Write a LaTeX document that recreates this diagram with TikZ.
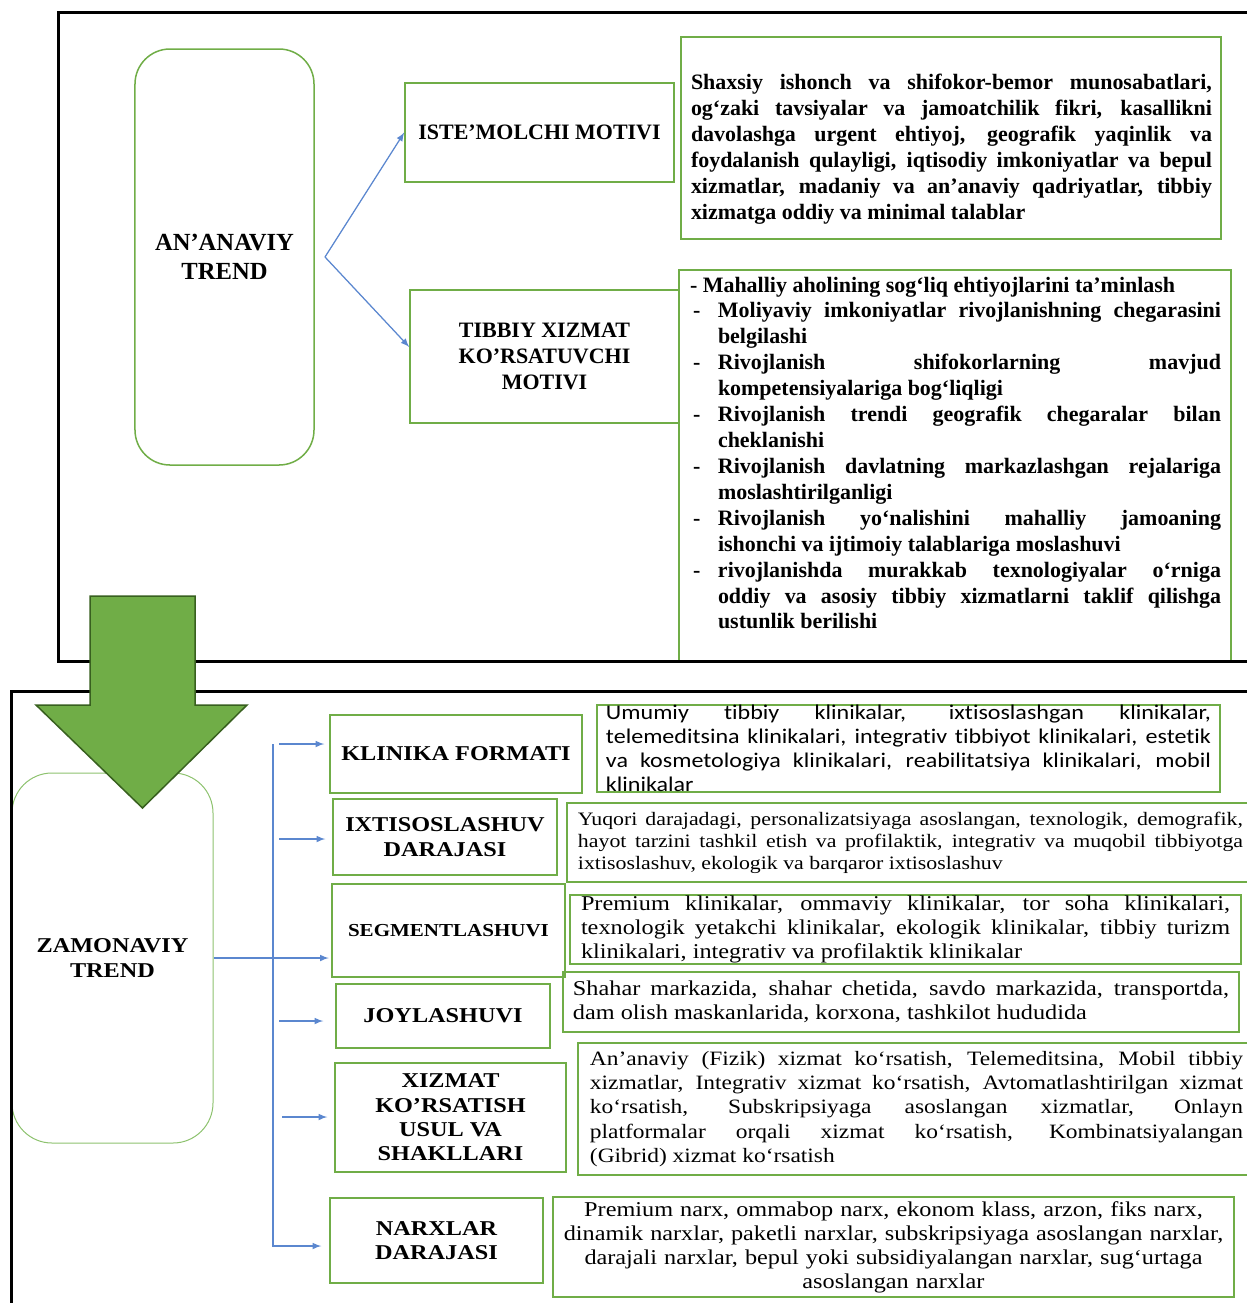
\documentclass[tikz,border=0pt]{standalone}
\usepackage{fontspec}
\setmainfont{Liberation Serif}
\newfontfamily\lowserif[FakeStretch=1.15]{Liberation Serif}
\newfontfamily\lowsans[FakeStretch=1.15, Ligatures=NoCommon]{Carlito}

\definecolor{boxgreen}{HTML}{70AD47}
\definecolor{softgreen}{HTML}{8DC26E}
\definecolor{darkgreen}{HTML}{38601F}
\definecolor{linkblue}{HTML}{5B87CF}

\setlength{\parindent}{0pt}
\hyphenpenalty=10000
\exhyphenpenalty=10000

\newcommand{\dashitem}{\par\hangindent=5.6mm\hangafter=1\makebox[5.6mm][l]{\hspace{0.6mm}-}\ignorespaces}

\tikzset{
  outerframe/.style={line width=0.6mm, black},
  gbox/.style={draw=boxgreen, line width=0.3mm, rectangle, inner sep=0pt},
  trendbox/.style={draw=boxgreen, line width=0.3mm, rounded corners=7mm, align=center},
  link/.style={-latex, draw=linkblue, fill=linkblue, line width=0.25mm},
  bigarrow/.style={fill=boxgreen, draw=darkgreen, line width=0.3mm},
  topname/.style={font=\fontsize{12.5}{14.8}\selectfont\bfseries, align=center},
  topbody/.style={font=\fontsize{12.5}{14.75}\selectfont\bfseries, align=justify, inner sep=0pt},
  lowhead/.style={font=\lowserif\fontsize{12}{13.8}\selectfont\bfseries, align=center},
  lowbody/.style={gbox, align=justify, inner ysep=0pt}
}

\begin{document}
\begin{tikzpicture}[x=0.2mm, y=-0.2mm]
\useasboundingbox (0,0) rectangle (1247,1303);

\node[trendbox, font=\fontsize{14}{16.5}\selectfont\bfseries, minimum width=35.8mm, minimum height=83.2mm] (anan) at (224.5,257) {AN’ANAVIY\\TREND};

\node[gbox, topname, minimum width=53.8mm, minimum height=19.8mm] (istem) at (539.5,132.5) {ISTE’MOLCHI MOTIVI};
\node[gbox, topname, minimum width=53.8mm, minimum height=26.6mm] (tibbiy) at (544.5,356.5) {TIBBIY XIZMAT\\KO’RSATUVCHI\\MOTIVI};

\coordinate (fork) at (325,257);
\draw[link] (fork) -- (istem.west);
\draw[link] (fork) -- ([yshift=1.9mm]tibbiy.west);

\node[gbox, minimum width=108mm, minimum height=40.4mm] (istembox) at (951,138) {};
\node[topbody, text width=104.2mm] (istemtxt) at (951.5,149) {Shaxsiy ishonch va shifokor-bemor munosabatlari, \linebreak og‘zaki tavsiyalar va jamoatchilik fikri, kasallikni \linebreak davolashga urgent ehtiyoj, geografik yaqinlik va \linebreak foydalanish qulayligi, iqtisodiy imkoniyatlar va bepul \linebreak xizmatlar, madaniy va an’anaviy qadriyatlar, tibbiy \linebreak xizmatga oddiy va minimal talablar};

\node[gbox, minimum width=110.4mm, minimum height=78.2mm] (motivbox) at (955,465.5) {};
\node[topbody, text width=106.2mm] (motivtxt) at (955.5,453) {- Mahalliy aholining sog‘liq ehtiyojlarini ta’minlash
\dashitem Moliyaviy imkoniyatlar rivojlanishning chegarasini \linebreak belgilashi
\dashitem Rivojlanish shifokorlarning mavjud \linebreak kompetensiyalariga bog‘liqligi
\dashitem Rivojlanish trendi geografik chegaralar bilan \linebreak cheklanishi
\dashitem Rivojlanish davlatning markazlashgan rejalariga \linebreak moslashtirilganligi
\dashitem Rivojlanish yo‘nalishini mahalliy jamoaning \linebreak ishonchi va ijtimoiy talablariga moslashuvi
\dashitem rivojlanishda murakkab texnologiyalar o‘rniga \linebreak oddiy va asosiy tibbiy xizmatlarni taklif qilishga \linebreak ustunlik berilishi\par};

\draw[outerframe] (1247,12) -- (58,12) -- (58,661) -- (1247,661);

\node[trendbox, lowhead, draw=softgreen, line width=0.2mm, rounded corners=8mm, minimum width=40.2mm, minimum height=74mm] (zamon) at (112.5,958) {ZAMONAVIY\\TREND};

\node[gbox, lowhead, minimum width=50.4mm, minimum height=15.6mm] (klin) at (456,754) {KLINIKA FORMATI};
\node[gbox, lowhead, font=\lowserif\fontsize{12}{14.2}\selectfont\bfseries, minimum width=44.8mm, minimum height=15.2mm] (ixt) at (445,837) {IXTISOSLASHUV\\DARAJASI};
\node[gbox, lowhead, font=\lowserif\fontsize{10.4}{12}\selectfont\bfseries, minimum width=46.6mm, minimum height=18.6mm] (segm) at (448.5,930.5) {SEGMENTLASHUVI};
\node[gbox, lowhead, minimum width=42.8mm, minimum height=12.8mm] (joy) at (443,1016) {JOYLASHUVI};
\node[gbox, lowhead, minimum width=46.2mm, minimum height=21.8mm] (xiz) at (450.5,1117.5) {XIZMAT\\KO’RSATISH\\USUL VA\\SHAKLLARI};
\node[gbox, lowhead, font=\lowserif\fontsize{12}{13.66}\selectfont\bfseries, minimum width=42.6mm, minimum height=17mm] (narx) at (436.5,1240.5) {NARXLAR\\DARAJASI};

\coordinate (vtop) at (273,744);
\coordinate (vbot) at (273,1247);
\draw[link, -] (vtop) -- (vbot);
\draw[link, shorten >=0.5mm] (zamon.east) -- (zamon.east -| segm.west);

\coordinate (k1) at (279,744);
\coordinate (k2) at (279,839);
\coordinate (k3) at (279,1021);
\coordinate (k4) at (282,1117);
\coordinate (k5) at (273,1246);
\draw[link, shorten >=1mm] (k1) -- (k1 -| klin.west);
\draw[link, shorten >=1.4mm] (k2) -- (k2 -| ixt.west);
\draw[link, shorten >=2.4mm] (k3) -- (k3 -| joy.west);
\draw[link, shorten >=1.4mm] (k4) -- (k4 -| xiz.west);
\draw[link, shorten >=1.6mm] (k5) -- (k5 -| narx.west);

\node[lowbody, font=\lowsans\fontsize{11.9}{13.66}\selectfont, text width=121mm, inner xsep=1.8mm, minimum height=17.4mm] (klintxt) at (908.5,748.5) {Umumiy tibbiy klinikalar, ixtisoslashgan klinikalar, \linebreak telemeditsina klinikalari, integrativ tibbiyot klinikalari, estetik \linebreak va kosmetologiya klinikalari, reabilitatsiya klinikalari, mobil \linebreak klinikalar};

\node[lowbody, font=\lowserif\fontsize{10.8}{12.5}\selectfont, text width=133mm, inner xsep=2.2mm, minimum height=15.8mm] (ixttxt) at (910.5,842.5) {Yuqori darajadagi, personalizatsiyaga asoslangan, texnologik, demografik, \linebreak hayot tarzini tashkil etish va profilaktik, integrativ va muqobil tibbiyotga \linebreak ixtisoslashuv, ekologik va barqaror ixtisoslashuv};

\node[lowbody, font=\lowserif\fontsize{12}{13.9}\selectfont, text width=129.8mm, inner xsep=2.2mm, minimum height=13.8mm] (segmtxt) at (905.5,929.5) {Premium klinikalar, ommaviy klinikalar, tor soha klinikalari, \linebreak texnologik yetakchi klinikalar, ekologik klinikalar, tibbiy turizm \linebreak klinikalari, integrativ va profilaktik klinikalar};

\node[lowbody, font=\lowserif\fontsize{12}{13.66}\selectfont, text width=131.2mm, inner xsep=2mm, minimum height=12mm] (joytxt) at (901,1002) {Shahar markazida, shahar chetida, savdo markazida, transportda, \linebreak dam olish maskanlarida, korxona, tashkilot hududida};

\node[lowbody, font=\lowserif\fontsize{11.6}{13.9}\selectfont, text width=130.6mm, inner xsep=2.4mm, minimum height=26.4mm] (xiztxt) at (916.5,1109) {An’anaviy (Fizik) xizmat ko‘rsatish, Telemeditsina, Mobil tibbiy \linebreak xizmatlar, Integrativ xizmat ko‘rsatish, Avtomatlashtirilgan xizmat \linebreak ko‘rsatish, Subskripsiyaga asoslangan xizmatlar, Onlayn \linebreak platformalar orqali xizmat ko‘rsatish, Kombinatsiyalangan \linebreak (Gibrid) xizmat ko‘rsatish};

\node[gbox, font=\lowserif\fontsize{12}{13.66}\selectfont, align=center, text width=134mm, inner xsep=1.1mm, minimum height=20mm] (narxtxt) at (893.5,1247) {Premium narx, ommabop narx, ekonom klass, arzon, fiks narx,\\ dinamik narxlar, paketli narxlar, subskripsiyaga asoslangan narxlar,\\ darajali narxlar, bepul yoki subsidiyalangan narxlar, sug‘urtaga\\ asoslangan narxlar};

\draw[outerframe] (1247,691) -- (11,691) -- (11,1303);

\draw[bigarrow] (90,596) -- (195,596) -- (195,705) -- (247,705) -- (142.5,808) -- (36,705) -- (90,705) -- cycle;

\end{tikzpicture}
\end{document}
